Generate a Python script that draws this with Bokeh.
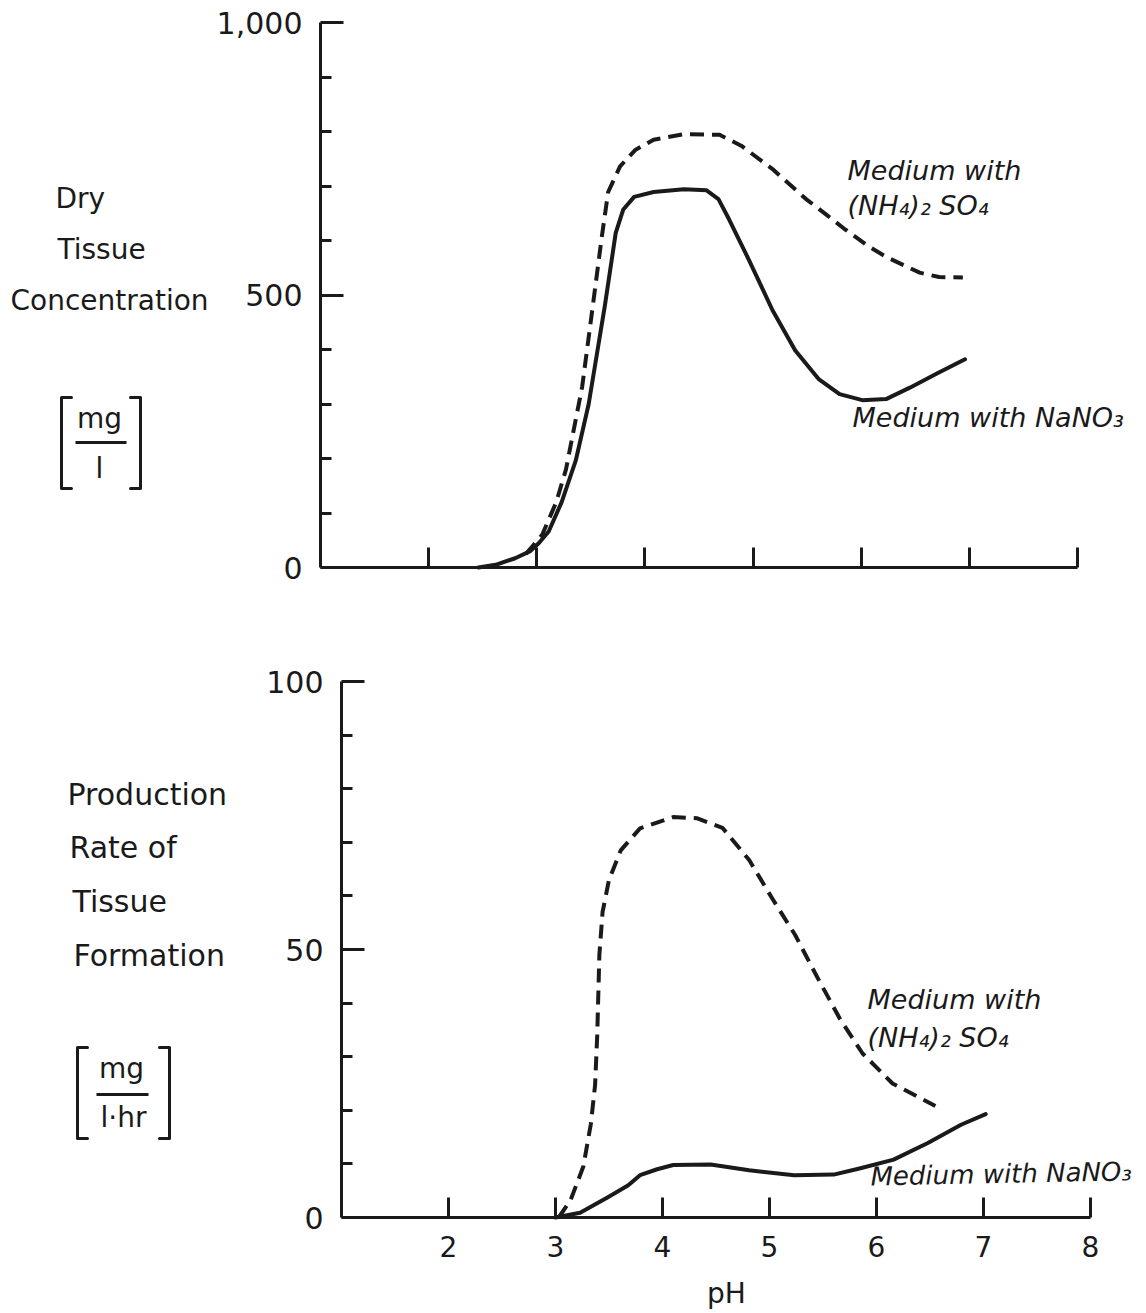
from bokeh.plotting import figure
from bokeh.layouts import column
from bokeh.models import Range1d, FixedTicker, NumeralTickFormatter, Label, PolyAnnotation
from bokeh.embed import file_html
from bokeh.resources import INLINE

# ---------------- data ----------------
# Upper panel: dry tissue concentration [mg/l] vs pH
top_ph_nano3 = [2.46, 2.62, 2.80, 2.94, 3.02, 3.11, 3.23, 3.36, 3.48, 3.63, 3.73, 3.80, 3.90,
                4.08, 4.36, 4.57, 4.68, 4.78, 4.96, 5.18, 5.39, 5.61, 5.80, 6.01, 6.23, 6.45,
                6.70, 6.96]
top_val_nano3 = [0, 5, 17, 30, 45, 66, 120, 196, 300, 481, 614, 657, 680,
                 689, 694, 692, 676, 638, 565, 472, 398, 345, 318, 307, 309, 330,
                 356, 382]
top_ph_nh4 = [2.90, 3.05, 3.18, 3.27, 3.42, 3.52, 3.60, 3.66, 3.77, 3.91, 4.08, 4.36, 4.69,
              4.89, 5.18, 5.49, 5.68, 5.84, 6.07, 6.23, 6.54, 6.72, 6.94]
top_val_nh4 = [25, 60, 120, 180, 332, 483, 605, 689, 736, 766, 785, 795, 794,
               774, 731, 676, 647, 622, 589, 570, 541, 533, 532]

# Lower panel: production rate of tissue formation [mg/(l*hr)] vs pH
bot_ph_nano3 = [3.00, 3.23, 3.49, 3.68, 3.79, 3.95, 4.10, 4.45, 4.81, 5.23, 5.60, 5.85,
                6.16, 6.48, 6.79, 7.02]
bot_val_nano3 = [0, 0.9, 3.8, 6.0, 7.9, 9.0, 9.8, 9.9, 8.8, 7.9, 8.0, 9.2,
                 10.8, 13.9, 17.3, 19.3]
bot_ph_nh4 = [3.03, 3.14, 3.26, 3.33, 3.37, 3.39, 3.41, 3.44, 3.50, 3.61, 3.79, 4.10, 4.32,
              4.56, 4.81, 5.02, 5.24, 5.45, 5.66, 5.87, 6.15, 6.55]
bot_val_nh4 = [0, 3.2, 9.5, 17.4, 24.7, 34, 49, 57, 63, 68.5, 72.6, 74.7, 74.5,
               72.7, 66.7, 59.7, 52.7, 44.7, 37, 30.6, 25, 20.8]

x_ticks = [2, 3, 4, 5, 6, 7, 8]
x_bounds = (1, 8)
top_y_major = [0, 500, 1000]
top_y_minor = [100, 200, 300, 400, 600, 700, 800, 900]
bot_y_major = [0, 50, 100]
bot_y_minor = [10, 20, 30, 40, 60, 70, 80, 90]

label_nh4 = ["Medium with", "(NH\u2084)\u2082  SO\u2084"]
label_nano3 = "Medium with NaNO\u2083"

FONT = "DejaVu Sans"
INK = "#1a1a1a"

# ---------------- layout geometry (page px) ----------------
W = 1140
H1, H2 = 620, 690
T_X1, T_X8 = 320, 1077      # pH 1 and pH 8 in the upper panel
T_Y0, T_Y1000 = 567, 22     # 0 and 1000 in the upper panel
B_X1, B_X8 = 341, 1090
B_Y0, B_Y100 = 1217, 681


def top_x(px):
    return 1 + (px - T_X1) * 7 / (T_X8 - T_X1)


def top_y(py):
    return (T_Y0 - py) * 1000 / (T_Y0 - T_Y1000)


def bot_x(px):
    return 1 + (px - B_X1) * 7 / (B_X8 - B_X1)


def bot_y(py):
    return (B_Y0 - py) * 100 / (B_Y0 - B_Y100)


def make_fig(h, xr, yr):
    p = figure(width=W, height=h, x_range=Range1d(*xr), y_range=Range1d(*yr),
               output_backend="svg", toolbar_location=None, title=None,
               min_border=0, min_border_left=0, min_border_right=0,
               min_border_top=0, min_border_bottom=0)
    p.outline_line_color = None
    p.grid.visible = False
    p.background_fill_color = "white"
    p.border_fill_color = "white"
    return p


def style_axes(p, yticks, yminor, ybounds, xlabels):
    ax = p.xaxis[0]
    ax.fixed_location = 0
    ax.bounds = x_bounds
    ax.ticker = FixedTicker(ticks=x_ticks)
    ax.axis_line_width = 3
    ax.axis_line_color = INK
    ax.major_tick_in = 20
    ax.major_tick_out = 0
    ax.major_tick_line_width = 3
    ax.major_tick_line_color = INK
    ax.minor_tick_line_color = None
    if xlabels:
        ax.major_label_text_font = FONT
        ax.major_label_text_font_size = "28px"
        ax.major_label_text_color = INK
        ax.major_label_standoff = 18
    else:
        ax.major_label_overrides = {t: "" for t in x_ticks}
    ay = p.yaxis[0]
    ay.fixed_location = 1
    ay.bounds = ybounds
    ay.ticker = FixedTicker(ticks=yticks, minor_ticks=yminor)
    ay.axis_line_width = 3
    ay.axis_line_color = INK
    ay.major_tick_in = 23
    ay.major_tick_out = 0
    ay.major_tick_line_width = 3
    ay.major_tick_line_color = INK
    ay.minor_tick_in = 11
    ay.minor_tick_out = 0
    ay.minor_tick_line_width = 3
    ay.minor_tick_line_color = INK
    ay.major_label_text_font = FONT
    ay.major_label_text_font_size = "30px"
    ay.major_label_text_color = INK
    ay.major_label_standoff = 18
    ay.major_label_orientation = "horizontal"


def add_text(p, x, y, text, size, style="normal", align="left", baseline="middle", angle=0):
    p.add_layout(Label(x=x, y=y, text=text, text_font=FONT, text_font_size=size,
                       text_font_style=style, text_align=align, text_baseline=baseline,
                       text_color=INK, angle=angle))


def add_poly(p, xs, ys):
    p.add_layout(PolyAnnotation(xs=xs, ys=ys, fill_color=None, fill_alpha=0,
                                line_color=INK, line_alpha=1.0, line_width=3,
                                line_join="round"))


def add_unit(p, fx, fy, left, right, top, bot, num, den, bar, num_xy, den_xy, size):
    add_poly(p, [fx(left + 10), fx(left), fx(left), fx(left + 10), fx(left), fx(left)],
             [fy(top), fy(top), fy(bot), fy(bot), fy(bot), fy(top)])
    add_poly(p, [fx(right - 10), fx(right), fx(right), fx(right - 10), fx(right), fx(right)],
             [fy(top), fy(top), fy(bot), fy(bot), fy(bot), fy(top)])
    add_poly(p, [fx(bar[0]), fx(bar[1])], [fy(bar[2]), fy(bar[2])])
    add_text(p, fx(num_xy[0]), fy(num_xy[1]), num, size, align="center")
    add_text(p, fx(den_xy[0]), fy(den_xy[1]), den, size, align="center")


# ---------------- upper panel ----------------
p1 = make_fig(H1, (top_x(0), top_x(W)), (top_y(H1), top_y(0)))
style_axes(p1, top_y_major, top_y_minor, (0, 1000), False)
p1.yaxis[0].formatter = NumeralTickFormatter(format="0,0")

p1.line(top_ph_nh4, top_val_nh4, line_color=INK, line_width=4, line_dash="14 8",
        line_join="round")
p1.line(top_ph_nano3, top_val_nano3, line_color=INK, line_width=4,
        line_join="round", line_cap="round")

add_text(p1, top_x(55), top_y(198), "Dry", "28px")
add_text(p1, top_x(57), top_y(249), "Tissue", "28px")
add_text(p1, top_x(10), top_y(300), "Concentration", "28px")
add_unit(p1, top_x, top_y, 61, 140, 397, 488, "mg", "l",
         (75, 126, 442), (99, 418), (99, 468), "28px")

add_text(p1, top_x(847), top_y(170), label_nh4[0], "27px", "italic", baseline="alphabetic")
add_text(p1, top_x(847), top_y(205), label_nh4[1], "27px", "italic", baseline="alphabetic")
add_text(p1, top_x(852), top_y(417), label_nano3, "27px", "italic", baseline="alphabetic")

# ---------------- lower panel ----------------
p2 = make_fig(H2, (bot_x(0), bot_x(W)), (bot_y(H1 + H2), bot_y(H1)))
style_axes(p2, bot_y_major, bot_y_minor, (0, 100), True)

p2.line(bot_ph_nh4, bot_val_nh4, line_color=INK, line_width=4, line_dash="14 8",
        line_join="round")
p2.line(bot_ph_nano3, bot_val_nano3, line_color=INK, line_width=4,
        line_join="round", line_cap="round")

add_text(p2, bot_x(67), bot_y(794), "Production", "30px")
add_text(p2, bot_x(69), bot_y(847), "Rate  of", "30px")
add_text(p2, bot_x(72), bot_y(901), "Tissue", "30px")
add_text(p2, bot_x(73), bot_y(955), "Formation", "30px")
add_unit(p2, bot_x, bot_y, 77, 169, 1047, 1138, "mg", "l\u00b7hr",
         (96, 148, 1094), (121, 1068), (123, 1117), "28px")

add_text(p2, bot_x(867), bot_y(999), label_nh4[0], "27px", "italic", baseline="alphabetic")
add_text(p2, bot_x(867), bot_y(1037), label_nh4[1], "27px", "italic", baseline="alphabetic")
add_text(p2, bot_x(870), bot_y(1176), label_nano3, "26px", "italic", baseline="alphabetic",
         angle=0.02)

add_text(p2, bot_x(726), bot_y(1293), "pH", "28px", align="center")

layout = column(p1, p2)
open("out.html", "w").write(file_html(layout, INLINE))
